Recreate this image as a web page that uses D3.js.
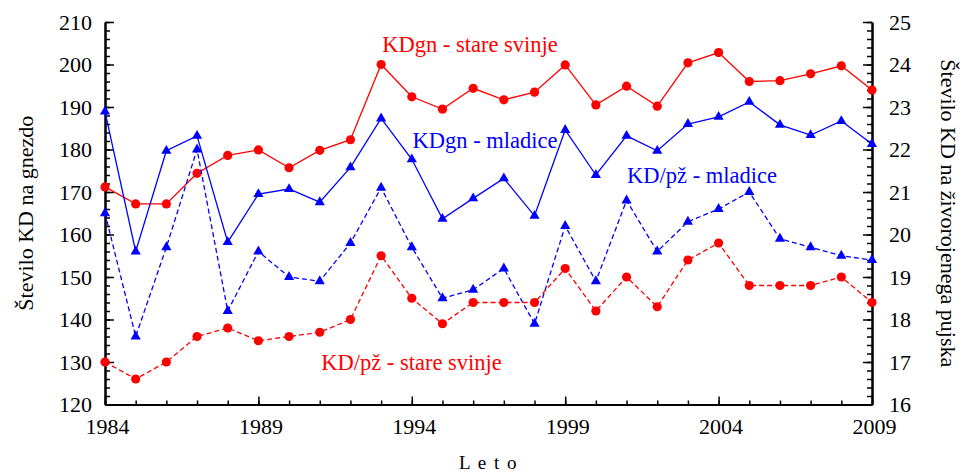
<!DOCTYPE html>
<html>
<head>
<meta charset="utf-8">
<script src="https://cdn.jsdelivr.net/npm/d3@7/dist/d3.min.js"></script>
<style>
  html, body { margin: 0; padding: 0; background: #fff; }
  svg, svg text { font-family: "Liberation Serif", "Times New Roman", Times, "Nimbus Roman", "DejaVu Serif", serif !important; }
</style>
</head>
<body>
<svg id="chart" width="964" height="473"></svg>
<script>
// ---- data ----
const years = d3.range(1984, 2010);
const kdgnStare = [171.2, 167.2, 167.2, 174.4, 178.6, 179.9, 175.7, 179.8, 182.3, 200.0,
                   192.4, 189.5, 194.4, 191.7, 193.5, 199.9, 190.5, 194.9, 190.2, 200.4,
                   202.8, 196.0, 196.2, 197.8, 199.7, 194.0];
const kdgnMladice = [188.9, 156.0, 179.7, 183.2, 158.2, 169.5, 170.7, 167.6, 175.8, 187.3,
                     177.7, 163.7, 168.5, 173.2, 164.4, 184.6, 174.0, 183.2, 179.7, 186.0,
                     187.7, 191.2, 185.8, 183.4, 186.7, 181.3];
const kdpzMladice = [20.5, 17.6, 19.7, 22.0, 18.2, 19.6, 19.0, 18.9, 19.8, 21.1,
                     19.7, 18.5, 18.7, 19.2, 17.9, 20.2, 18.9, 20.8, 19.6, 20.3,
                     20.6, 21.0, 19.9, 19.7, 19.5, 19.4];
const kdpzStare = [17.0, 16.6, 17.0, 17.6, 17.8, 17.5, 17.6, 17.7, 18.0, 19.5,
                   18.5, 17.9, 18.4, 18.4, 18.4, 19.2, 18.2, 19.0, 18.3, 19.4,
                   19.8, 18.8, 18.8, 18.8, 19.0, 18.4];
const xTickYears = [1984, 1989, 1994, 1999, 2004, 2009];
const leftTicks = [120, 130, 140, 150, 160, 170, 180, 190, 200, 210];
const rightTicks = [16, 17, 18, 19, 20, 21, 22, 23, 24, 25];
const leftTitle = "Število KD na gnezdo";
const rightTitle = "Število KD na živorojenega pujska";
const xTitle = "L e t o";

// ---- layout ----
const L = 105, R = 872, T = 22, B = 404.5;
const svg = d3.select("#chart");
const x = d3.scaleLinear().domain([1984, 2009]).range([L, R]);
const yL = d3.scaleLinear().domain([120, 210]).range([B, T]);
const yR = d3.scaleLinear().domain([16, 25]).range([B, T]);

const RED = "#ff0000", BLUE = "#0000ff";
const FONT = "'Liberation Serif', 'Times New Roman', Times, 'Nimbus Roman', 'DejaVu Serif', serif";

// ---- axes ----
function styleAxis(g) {
  g.attr("font-family", null).attr("font-size", null);
  g.select(".domain").attr("stroke", "#000").attr("stroke-width", 2);
  g.selectAll(".tick line").attr("stroke", "#000").attr("stroke-width", 1.5);
  g.selectAll("text").attr("fill", "#000").style("font-size", "22px").style("font-family", FONT);
}
// minor ticks
svg.append("g").attr("transform", `translate(${L},0)`)
  .call(d3.axisLeft(yL).tickValues(d3.range(120, 211, 2)).tickSize(-5).tickSizeOuter(0).tickFormat(""))
  .call(styleAxis);
svg.append("g").attr("transform", `translate(${R},0)`)
  .call(d3.axisRight(yR).tickValues(d3.range(16, 25.01, 0.2)).tickSize(-5).tickSizeOuter(0).tickFormat(""))
  .call(styleAxis);
svg.append("g").attr("transform", `translate(0,${B})`)
  .call(d3.axisBottom(x).tickValues(years).tickSize(-4).tickSizeOuter(0).tickFormat(""))
  .call(styleAxis);
// major ticks
svg.append("g").attr("transform", `translate(${L},0)`)
  .call(d3.axisLeft(yL).tickValues(leftTicks).tickSize(-9).tickSizeOuter(0).tickPadding(13).tickFormat(d3.format("d")))
  .call(styleAxis);
svg.append("g").attr("transform", `translate(${R},0)`)
  .call(d3.axisRight(yR).tickValues(rightTicks).tickSize(-9).tickSizeOuter(0).tickPadding(17).tickFormat(d3.format("d")))
  .call(styleAxis);
svg.append("g").attr("transform", `translate(0,${B})`)
  .call(d3.axisBottom(x).tickValues(xTickYears).tickSize(-8).tickSizeOuter(0).tickPadding(14).tickFormat(d3.format("d")))
  .call(styleAxis)
  .selectAll("text").attr("dx", 2);

// ---- titles ----
svg.append("text")
  .attr("transform", `translate(33,${(T + B) / 2}) rotate(-90)`)
  .attr("text-anchor", "middle").style("font-size", "22px").style("font-family", FONT).text(leftTitle);
svg.append("text")
  .attr("transform", `translate(941,${(T + B) / 2}) rotate(90)`)
  .attr("text-anchor", "middle").style("font-size", "22px").style("font-family", FONT).text(rightTitle);
svg.append("text")
  .attr("x", (L + R) / 2).attr("y", 469)
  .attr("text-anchor", "middle").style("font-size", "19px").style("font-family", FONT)
  .attr("letter-spacing", 1.5).text(xTitle);

// ---- series ----
const series = [
  { vals: kdgnStare, y: yL, color: RED, dash: null, marker: "circle" },
  { vals: kdgnMladice, y: yL, color: BLUE, dash: null, marker: "triangle" },
  { vals: kdpzMladice, y: yR, color: BLUE, dash: "5,3", marker: "triangle" },
  { vals: kdpzStare, y: yR, color: RED, dash: "5,3", marker: "circle" }
];
const tri = d3.symbol().type(d3.symbolTriangle).size(45);
series.forEach(s => {
  const pts = years.map((yr, i) => [x(yr), s.y(s.vals[i])]);
  svg.append("path")
    .attr("d", d3.line()(pts))
    .attr("fill", "none").attr("stroke", s.color).attr("stroke-width", 1.3)
    .attr("stroke-dasharray", s.dash);
  const g = svg.append("g");
  pts.forEach(p => {
    if (s.marker === "circle") {
      g.append("circle").attr("cx", p[0]).attr("cy", p[1]).attr("r", 4.6).attr("fill", s.color);
    } else {
      g.append("path").attr("d", tri).attr("transform", `translate(${p[0]},${p[1]})`).attr("fill", s.color);
    }
  });
});

// ---- series labels ----
const labels = [
  { text: "KDgn - stare svinje", cx: 470, by: 52, color: RED },
  { text: "KDgn - mladice", cx: 485, by: 148, color: BLUE },
  { text: "KD/pž - mladice", cx: 702, by: 183, color: BLUE },
  { text: "KD/pž - stare svinje", cx: 411.5, by: 370, color: RED }
];
labels.forEach(l => {
  svg.append("text").attr("x", l.cx).attr("y", l.by).attr("text-anchor", "middle")
    .style("font-size", "22.5px").style("font-family", FONT).attr("fill", l.color).text(l.text);
});
</script>
</body>
</html>
